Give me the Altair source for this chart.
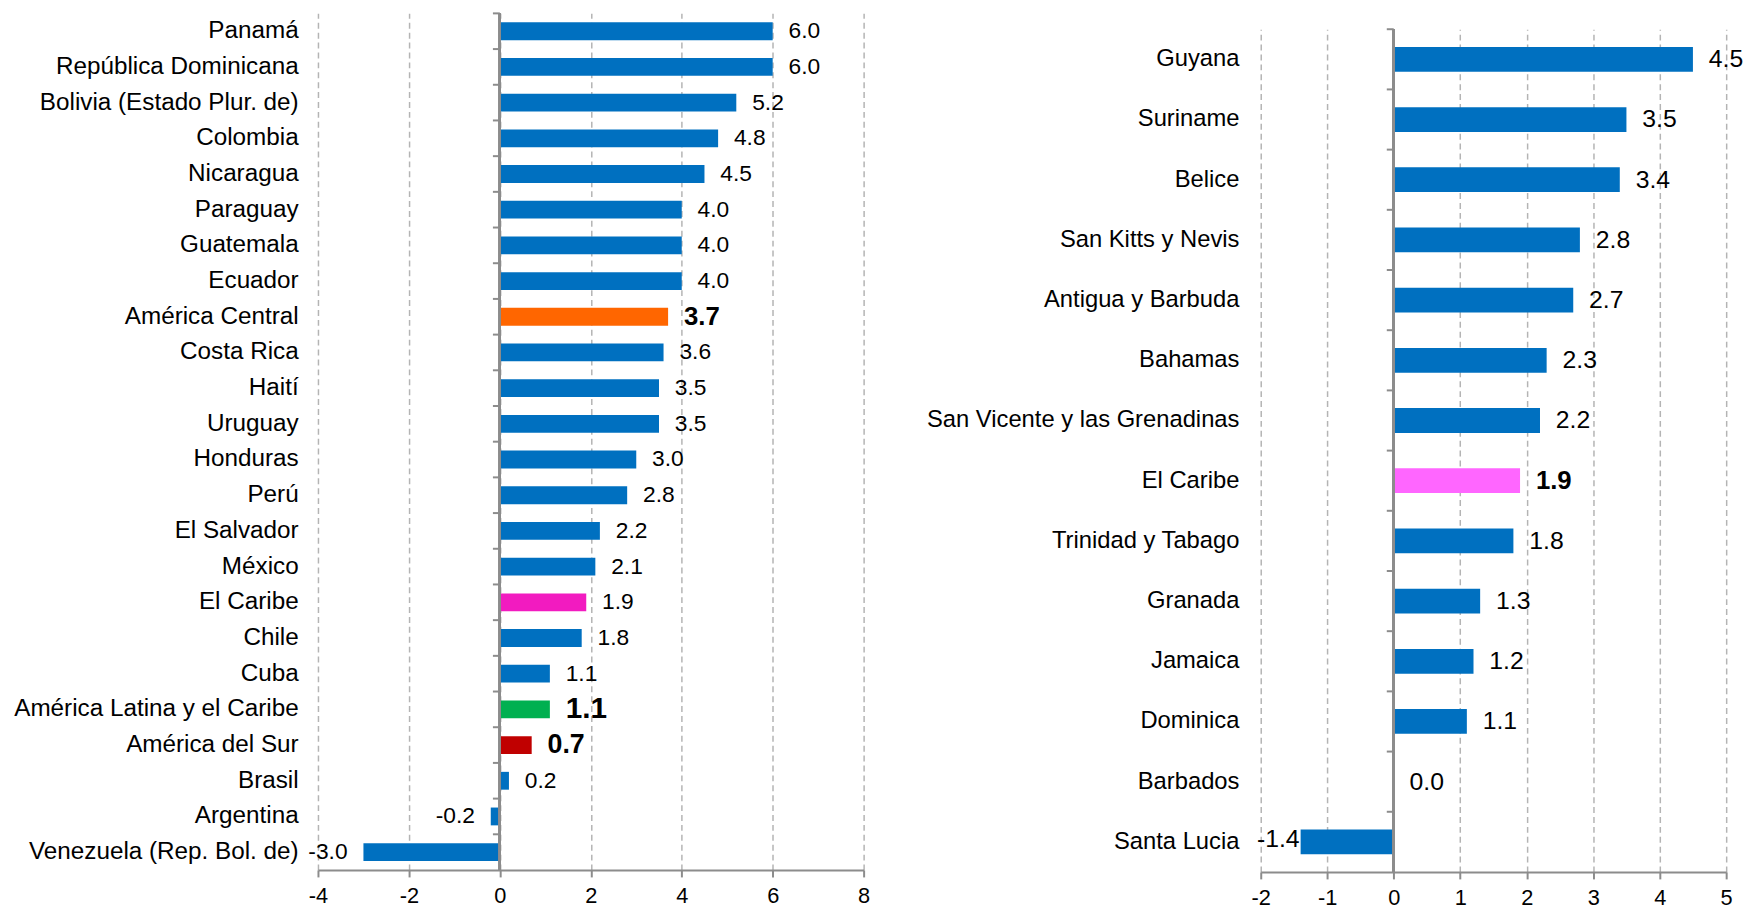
import altair as alt
import pandas as pd

# ---------------- data ----------------
left_categories = [
    "Panamá", "República Dominicana", "Bolivia (Estado Plur. de)", "Colombia",
    "Nicaragua", "Paraguay", "Guatemala", "Ecuador", "América Central",
    "Costa Rica", "Haití", "Uruguay", "Honduras", "Perú", "El Salvador",
    "México", "El Caribe", "Chile", "Cuba", "América Latina y el Caribe",
    "América del Sur", "Brasil", "Argentina", "Venezuela (Rep. Bol. de)",
]
left_values = [6.0, 6.0, 5.2, 4.8, 4.5, 4.0, 4.0, 4.0, 3.7, 3.6, 3.5, 3.5, 3.0,
               2.8, 2.2, 2.1, 1.9, 1.8, 1.1, 1.1, 0.7, 0.2, -0.2, -3.0]

right_categories = [
    "Guyana", "Suriname", "Belice", "San Kitts y Nevis", "Antigua y Barbuda",
    "Bahamas\u00a0", "San Vicente y las Grenadinas", "El Caribe",
    "Trinidad y Tabago", "Granada", "Jamaica", "Dominica", "Barbados",
    "Santa Lucia",
]
right_values = [4.5, 3.5, 3.4, 2.8, 2.7, 2.3, 2.2, 1.9, 1.8, 1.3, 1.2, 1.1, 0.0, -1.4]

left_ticks = [-4, -2, 0, 2, 4, 6, 8]
right_ticks = [-2, -1, 0, 1, 2, 3, 4, 5]

# ---------------- styles ----------------
FONT = "Liberation Sans"
BLUE = "#0070C0"
GRAY = "#8C8C8C"
left_highlight = {"América Central": "#FF6600", "El Caribe": "#F21BC0",
                  "América Latina y el Caribe": "#00B050", "América del Sur": "#C00000"}
left_bold = {"América Central": 26, "América Latina y el Caribe": 30, "América del Sur": 27}
right_highlight = {"El Caribe": "#FF66FF"}
right_bold = {"El Caribe": 26}


def panel(cats, vals, ticks, highlight, bold, width, height, bar_size, extent,
          cat_fs, cat_pad, label_fs, neg_dx, neg_dy):
    df = pd.DataFrame({
        "cat": cats,
        "val": vals,
        "col": [highlight.get(c, BLUE) for c in cats],
        "lab": [f"{v:.1f}" for v in vals],
        "bold": [c in bold for c in cats],
        "fs": [bold.get(c, label_fs) for c in cats],
    })
    yaxis = alt.Axis(title=None, domain=False, ticks=False, tickSize=0,
                     labelPadding=cat_pad, labelFontSize=cat_fs, labelFont=FONT,
                     labelColor="black", labelLimit=600, minExtent=extent,
                     maxExtent=extent, grid=False)
    y = alt.Y("cat:N", sort=cats, axis=yaxis,
              scale=alt.Scale(paddingInner=0, paddingOuter=0))
    xaxis = alt.Axis(values=ticks, title=None, grid=True, gridDash=[6, 4],
                     gridColor="#B4B4B4", gridWidth=1.5, domainColor=GRAY,
                     domainWidth=2, tickColor=GRAY, tickWidth=2, tickSize=7,
                     labelFontSize=22, labelFont=FONT, labelColor="black",
                     labelPadding=9, labelFlush=False,
                     labelExpr="'' + datum.value")
    x = alt.X("val:Q", axis=xaxis,
              scale=alt.Scale(domain=[ticks[0], ticks[-1]], nice=False))
    base = alt.Chart(df)
    bars = base.mark_bar(size=bar_size).encode(
        y=y, x=x, x2=alt.datum(0),
        color=alt.Color("col:N", scale=None, legend=None))
    zero = base.mark_rule(color=GRAY, strokeWidth=2).encode(x=alt.datum(0))
    bticks = base.mark_rule(color=GRAY, strokeWidth=2, xOffset=-7).encode(
        x=alt.datum(0), x2=alt.datum(0),
        y=alt.Y("cat:N", sort=cats, axis=yaxis, bandPosition=0,
                scale=alt.Scale(paddingInner=0, paddingOuter=0)))
    pos = base.transform_filter("datum.val >= 0 && !datum.bold").mark_text(
        align="left", baseline="middle", dx=16, font=FONT, fontSize=label_fs,
        color="black").encode(y=y, x=x, text="lab:N")
    neg = base.transform_filter("datum.val < 0").mark_text(
        align="right", baseline="middle", dx=neg_dx, dy=neg_dy, font=FONT,
        fontSize=label_fs, color="black").encode(y=y, x=x, text="lab:N")
    bl = base.transform_filter("datum.bold").mark_text(
        align="left", baseline="middle", dx=16, font=FONT, fontWeight="bold",
        color="black").encode(y=y, x=x, text="lab:N",
                              size=alt.Size("fs:Q", scale=None, legend=None))
    return alt.layer(bars, zero, bticks, pos, neg, bl).properties(
        width=width, height=height)


left = panel(left_categories, left_values, left_ticks, left_highlight, left_bold,
             551, 865, 18, 308, 24.5, 20, 23, -16, 0)
right = panel(right_categories, right_values, right_ticks, right_highlight,
              right_bold, 470, 851, 25, 330, 24, 22, 25, -1, -3)

# invisible strip that lowers the right panel so that both x-axes line up
spacer = alt.Chart(pd.DataFrame({"a": [0]})).mark_rect(opacity=0).encode(
    x=alt.value(0), x2=alt.value(1), y=alt.value(0), y2=alt.value(1)
).properties(width=470, height=1)

right_col = alt.vconcat(spacer, right, spacing=14)

chart = alt.hconcat(left, right_col, spacing=56).properties(
    padding={"left": 5, "top": 0, "right": 0, "bottom": 0}
).configure_view(stroke=None)

chart.save("out.html", embed_options={"renderer": "svg", "actions": False})
